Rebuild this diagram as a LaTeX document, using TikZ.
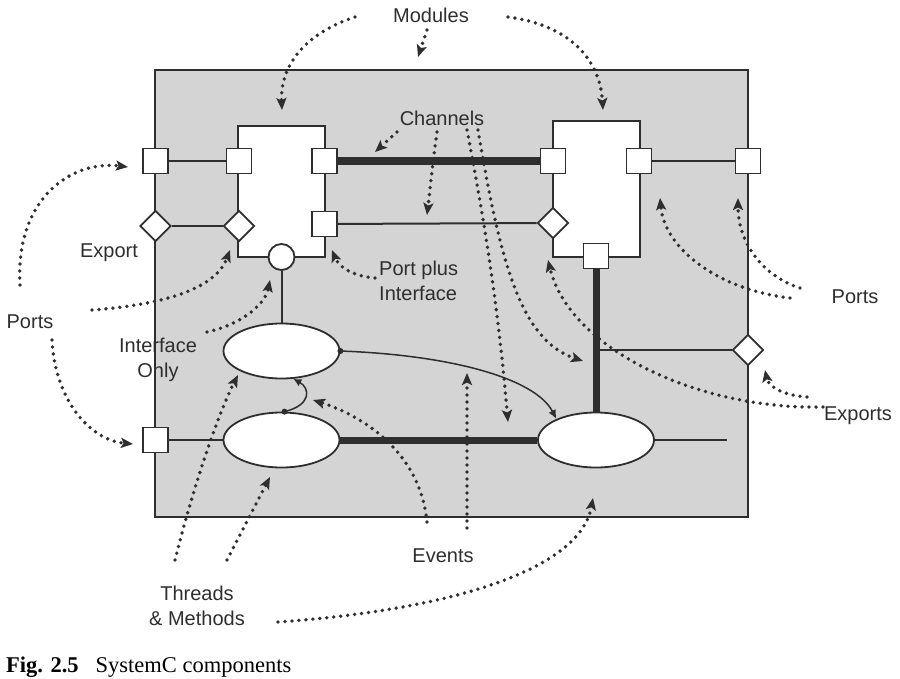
\documentclass[tikz,border=0pt]{standalone}
\usepackage{fontspec}
\setmainfont{Liberation Serif}
\newfontfamily\lsans{Liberation Sans}
\usetikzlibrary{shapes.geometric, arrows.meta}
\definecolor{ink}{HTML}{2E2E2E}
\definecolor{panel}{HTML}{D4D4D4}
\begin{document}
\begin{tikzpicture}[x=1pt,y=-1pt,
  lbl/.style={font=\lsans\fontsize{20}{24.5}\selectfont, text=ink, inner sep=0pt, align=center, anchor=base},
  portbox/.style={draw=ink, fill=white, line width=1.8pt, minimum size=25pt, inner sep=0pt, rectangle},
  expbox/.style={draw=ink, fill=white, line width=1.8pt, diamond, minimum size=31pt, inner sep=0pt},
  ifcirc/.style={draw=ink, fill=white, line width=1.8pt, circle, minimum size=26pt, inner sep=0pt},
  modbox/.style={draw=ink, fill=white, line width=1.9pt, rectangle, inner sep=0pt},
  proc/.style={draw=ink, fill=white, line width=1.8pt, ellipse, minimum width=116pt, minimum height=55pt, inner sep=0pt},
  wire/.style={draw=ink, line width=2pt},
  chan/.style={draw=ink, line width=7.5pt},
  note/.style={draw=ink, line width=3.8pt, line cap=round, dash pattern=on 0pt off 7pt, -{Stealth[length=12pt,width=10pt,inset=2.5pt]}},
]
\useasboundingbox (0,0) rectangle (900,678);
% system panel
\node[draw=ink, fill=panel, line width=2pt, minimum width=593pt, minimum height=447pt, inner sep=0pt] (sys) at (451.5,293.5) {};
% modules
\node[modbox, minimum width=87pt, minimum height=131pt] (m1) at (281.5,191.5) {};
\node[modbox, minimum width=87pt, minimum height=136pt] (m2) at (596.5,189) {};
% processes
\node[proc] (e1) at (281.5,351) {};
\node[proc] (e2) at (281.5,440) {};
\node[proc] (e3) at (596,440) {};
% ports
\node[portbox] (pL) at (155.5,161) {};
\node[portbox] (m1a) at (239,161) {};
\node[portbox] (m1b) at (324.5,161) {};
\node[portbox] (m1c) at (324.5,224) {};
\node[expbox] (dL) at (155.5,226) {};
\node[expbox] (m1d) at (239,226) {};
\node[ifcirc] (m1i) at (281.5,257) {};
\node[portbox] (m2a) at (553,161) {};
\node[portbox] (m2b) at (639,161) {};
\node[portbox] (pR) at (748,161) {};
\node[expbox] (m2d) at (553,223) {};
\node[portbox] (m2p) at (596,256) {};
\node[expbox] (dR) at (748,350) {};
\node[portbox] (pL2) at (155.5,440) {};
% wires and channels
\draw[wire] (pL) -- (m1a);
\draw[chan] (m1b) -- (m2a);
\draw[wire] (m2b) -- (pR);
\draw[wire] (dL) -- (m1d);
\draw[wire] (m1c) -- (m2d);
\draw[wire] (m1i) -- (e1);
\draw[chan, line width=7pt] (m2p) -- (e3);
\coordinate (j1) at (596,350);
\draw[wire] (j1) -- (dR);
\draw[wire] (pL2) -- (e2);
\draw[chan, line width=7pt] (e2) -- (e3);
\coordinate (tailR) at (727,440);
\draw[wire] (e3) -- (tailR);
% event links
\draw[wire, line width=1.5pt, -{Latex[length=9pt,width=8pt]}] (e1.east) .. controls (450,355) and (535,378) .. (e3.152);
\fill[ink] (e1.east) circle (3pt);
\draw[wire, line width=1.5pt, -{Latex[length=8pt,width=8pt]}] (e2.84) .. controls (312,405) and (310,388) .. (e1.-67);
\fill[ink] (e2.84) circle (3pt);
% labels
\node[lbl] (tMod) at (431,22) {Modules};
\node[lbl] (tChan) at (442,125) {Channels};
\node[lbl] (tExp) at (109,257) {Export};
\node[lbl, anchor=base west, align=left] (tPpi) at (379,300) {Port plus\\Interface};
\node[lbl] (tPortsL) at (30,328) {Ports};
\node[lbl] (tIfo) at (158,377) {Interface\\Only};
\node[lbl] (tPortsR) at (855,303) {Ports};
\node[lbl] (tExps) at (858,420) {Exports};
\node[lbl] (tEv) at (443,562) {Events};
\node[lbl] (tThr) at (197,625) {Threads\\\& Methods};
\node[anchor=base west, font=\fontsize{22.5}{24}\selectfont, inner sep=0pt, text=black] (cap) at (6,672) {\textbf{Fig. 2.5}\hspace{17pt}SystemC components};
% annotation arrows
\coordinate (a1s) at (355,17);  \coordinate (a1e) at (282,110);
\coordinate (a2s) at (427,30);  \coordinate (a2e) at (418,57);
\coordinate (a3s) at (508,17);  \coordinate (a3e) at (603,110);
\coordinate (a4s) at (20,285);  \coordinate (a4e) at (128,167);
\coordinate (a5s) at (52,340);  \coordinate (a5e) at (133,444);
\coordinate (a6s) at (92,310);  \coordinate (a6e) at (230,250);
\coordinate (a7s) at (207,332); \coordinate (a7e) at (270,280);
\coordinate (a8s) at (397,132); \coordinate (a8e) at (375,152);
\coordinate (a9s) at (437,132); \coordinate (a9e) at (427,215);
\coordinate (a10s) at (467,130); \coordinate (a10e) at (508,422);
\coordinate (a11s) at (478,130); \coordinate (a11e) at (583,361);
\coordinate (a12s) at (427,522); \coordinate (a12e) at (313,400);
\coordinate (a13s) at (467,528); \coordinate (a13e) at (467,373);
\coordinate (a14s) at (175,560); \coordinate (a14e) at (238,375);
\coordinate (a15s) at (227,560); \coordinate (a15e) at (270,477);
\coordinate (a16s) at (278,622); \coordinate (a16e) at (593,498);
\coordinate (a17s) at (790,298); \coordinate (a17e) at (660,198);
\coordinate (a18s) at (800,288); \coordinate (a18e) at (738,198);
\coordinate (a19s) at (375,278); \coordinate (a19e) at (332,250);
\coordinate (a20s) at (823,407); \coordinate (a20e) at (548,260);
\coordinate (a21s) at (807,397); \coordinate (a21e) at (765,370);
\draw[note] (a1s) .. controls (300,35) and (280,70) .. (a1e);
\draw[note] (a2s) -- (a2e);
\draw[note] (a3s) .. controls (570,25) and (600,60) .. (a3e);
\draw[note] (a4s) .. controls (15,200) and (70,160) .. (a4e);
\draw[note] (a5s) .. controls (55,400) and (90,440) .. (a5e);
\draw[note] (a6s) .. controls (160,305) and (215,290) .. (a6e);
\draw[note] (a7s) .. controls (240,325) and (265,305) .. (a7e);
\draw[note] (a8s) -- (a8e);
\draw[note] (a9s) .. controls (433,160) and (430,190) .. (a9e);
\draw[note] (a10s) .. controls (490,250) and (500,330) .. (a10e);
\draw[note] (a11s) .. controls (500,260) and (520,340) .. (a11e);
\draw[note] (a12s) .. controls (420,450) and (360,415) .. (a12e);
\draw[note] (a13s) -- (a13e);
\draw[note] (a14s) .. controls (195,480) and (220,410) .. (a14e);
\draw[note] (a15s) -- (a15e);
\draw[note] (a16s) .. controls (450,610) and (580,570) .. (a16e);
\draw[note] (a17s) .. controls (720,290) and (665,250) .. (a17e);
\draw[note] (a18s) .. controls (760,275) and (738,240) .. (a18e);
\draw[note] (a19s) .. controls (350,276) and (338,265) .. (a19e);
\draw[note] (a20s) .. controls (700,410) and (570,350) .. (a20e);
\draw[note] (a21s) .. controls (780,395) and (768,385) .. (a21e);
\end{tikzpicture}
\end{document}
